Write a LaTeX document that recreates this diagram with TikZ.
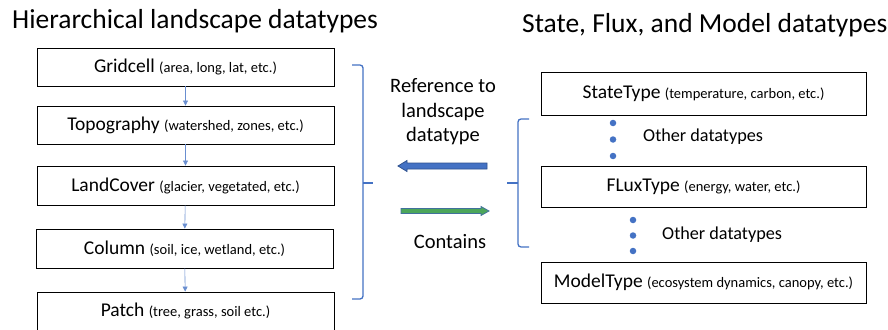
\documentclass[tikz,border=0pt]{standalone}
\usepackage{fontspec}
\setmainfont{Carlito}
\usetikzlibrary{arrows.meta}
\definecolor{bblue}{HTML}{4472C4}
\definecolor{bbluedark}{HTML}{2F528F}
\definecolor{ggreen}{HTML}{4CA65A}
\definecolor{goutline}{HTML}{41719C}
\tikzset{
  box/.style={draw=black, line width=0.9pt, minimum width=297pt, minimum height=38pt, inner sep=0pt, font=\fontsize{19.5}{22}\selectfont},
  rbox/.style={draw=black, line width=0.9pt, minimum width=325pt, minimum height=42pt, inner sep=0pt, font=\fontsize{19.5}{22}\selectfont},
  link/.style={draw=bblue!80, line width=0.6pt, -{Triangle[length=5pt,width=5pt]}},
  brace/.style={draw=bblue, line width=1.3pt, rounded corners=3pt},
  dot/.style={circle, fill=bblue, inner sep=0pt, minimum size=6.5pt},
  lbl/.style={font=\fontsize{20.5}{24.5}\selectfont, align=center},
  other/.style={anchor=west, font=\fontsize{18.2}{20}\selectfont, inner sep=0pt},
  title/.style={font=\fontsize{27.5}{30}\selectfont, anchor=base west, inner sep=0pt}
}
\newcommand{\subt}[1]{{\fontsize{14.5}{16}\selectfont #1}}
\begin{document}
\begin{tikzpicture}[x=1pt,y=-1pt]
\useasboundingbox[fill=white] (0,0) rectangle (888,329);
% titles
\node[title] (tl) at (12,29) {Hierarchical landscape datatypes};
\node[title] (tr) at (522,33) {State, Flux, and Model datatypes};
% left boxes
\node[box] (grid) at (185.5,67) {Gridcell \subt{(area, long, lat, etc.)}};
\node[box] (topo) at (185.5,125) {Topography \subt{(watershed, zones, etc.)}};
\node[box, minimum height=39pt] (land) at (185.5,185.5) {LandCover \subt{(glacier, vegetated, etc.)}};
\node[box, minimum height=39pt] (col) at (184.5,248.5) {Column \subt{(soil, ice, wetland, etc.)}};
\node[box] (patch) at (185.5,311) {Patch \subt{(tree, grass, soil etc.)}};
\draw[link] (grid) -- (topo);
\draw[link] (topo) -- (land);
\draw[link] (land) -- (col);
\draw[link] (col) -- (patch);
% right boxes
\node[rbox, minimum height=43pt] (state) at (703.5,93.5) {StateType \subt{(temperature, carbon, etc.)}};
\node[rbox, minimum height=41pt] (flux) at (703.5,186.5) {FLuxType \subt{(energy, water, etc.)}};
\node[rbox, minimum height=41pt] (model) at (703.5,282.5) {ModelType \subt{(ecosystem dynamics, canopy, etc.)}};
% dots
\node[dot] (d1) at (613,123) {};
\node[dot] (d2) at (613,139.5) {};
\node[dot] (d3) at (613,156) {};
\node[dot] (d4) at (633,220) {};
\node[dot] (d5) at (633,235.5) {};
\node[dot] (d6) at (633,251) {};
\node[other] (o1) at (643,137) {Other datatypes};
\node[other] (o2) at (662,235) {Other datatypes};
% braces
\draw[brace] (352,65) -- (363,65) -- (363,299) -- (352,299);
\draw[draw=bblue, line width=1.3pt] (363,183) -- (373,183);
\draw[brace] (529,119) -- (518,119) -- (518,247) -- (529,247);
\draw[draw=bblue, line width=1.3pt] (518,183) -- (507,183);
% middle labels
\node[lbl] (ref) at (443,112) {Reference to\\landscape\\datatype};
\node[lbl] (cont) at (450,242) {Contains};
% big arrows
\draw[fill=bblue, draw=bbluedark, line width=0.8pt, line join=miter]
  (487,163) -- (407,163) -- (407,160.5) -- (398,166) -- (407,171.5) -- (407,169) -- (487,169) -- cycle;
\draw[fill=ggreen, draw=goutline, line width=0.8pt, line join=miter]
  (401,208.5) -- (481,208.5) -- (481,206.5) -- (489,211) -- (481,215.5) -- (481,213.5) -- (401,213.5) -- cycle;
\end{tikzpicture}
\end{document}
